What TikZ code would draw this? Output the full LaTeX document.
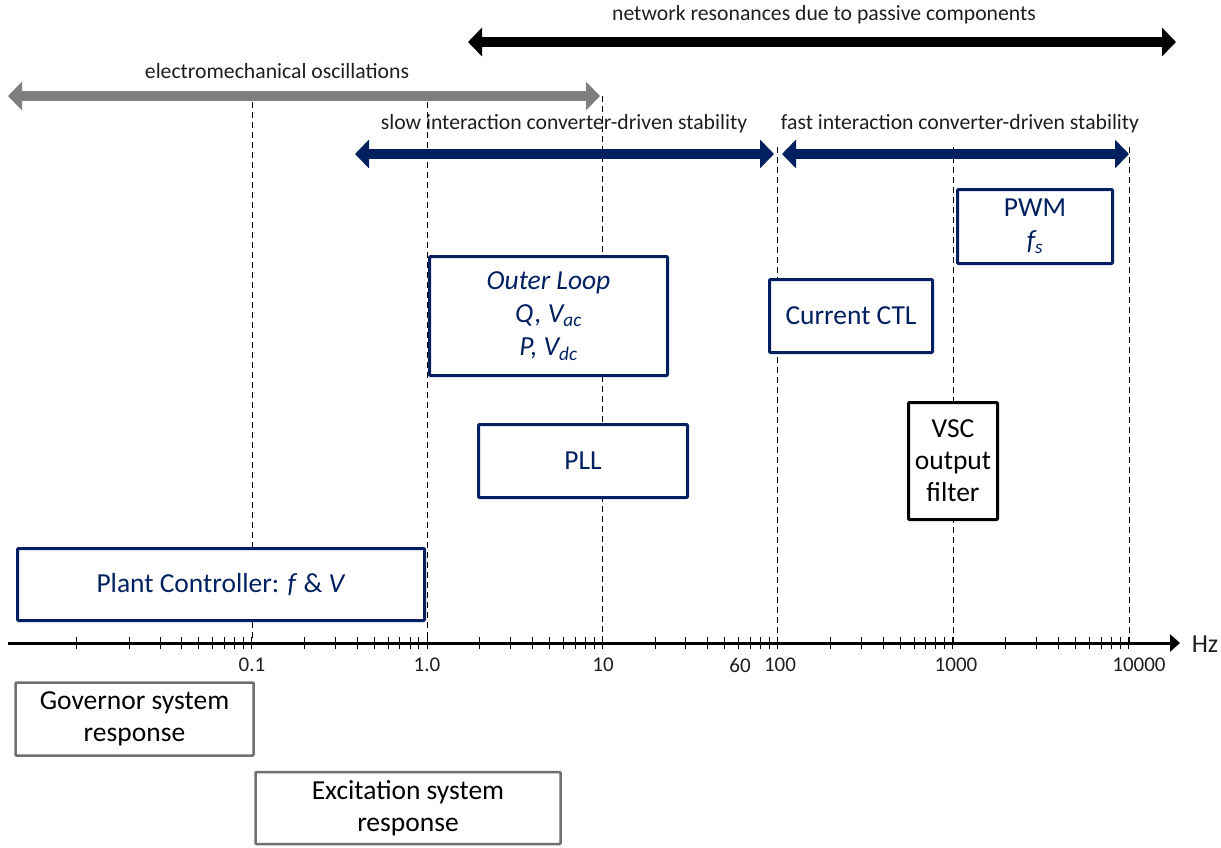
\documentclass[tikz,border=0pt]{standalone}
\usepackage{fontspec}
\setmainfont{Carlito}
\usetikzlibrary{arrows.meta}
\definecolor{navy}{RGB}{0,32,96}
\definecolor{boxgray}{RGB}{112,112,112}
\definecolor{arrgray}{RGB}{127,127,127}
\definecolor{txt}{RGB}{30,30,30}
\begin{document}
\begin{tikzpicture}[x=1pt,y=-1pt,
  bluebox/.style={draw=navy, line width=3pt, fill=white, text=navy, align=center,
    font=\fontsize{27.5}{33}\selectfont, inner sep=0pt, rounded corners=1pt},
  blackbox/.style={draw=black, line width=3pt, fill=white, text=black, align=center,
    font=\fontsize{27.5}{32}\selectfont, inner sep=0pt, rounded corners=1pt},
  graybox/.style={draw=boxgray, line width=2.5pt, fill=white, text=black, align=center,
    font=\fontsize{27.5}{32}\selectfont, inner sep=0pt, rounded corners=1pt},
  lbl/.style={font=\fontsize{21.7}{25}\selectfont, text=txt},
  ticklbl/.style={font=\fontsize{21}{24}\selectfont, text=txt},
  vdash/.style={dash pattern=on 6pt off 4pt, line width=1pt, black},
  rangearrow/.style={line width=10pt, {Triangle[width=28pt,length=14pt]}-{Triangle[width=28pt,length=14pt]}},
]
\useasboundingbox (0,0) rectangle (1221,847);

% dashed decade lines
\foreach \xx/\yy in {252/92, 427/92, 602/96, 777/147, 953/147, 1129/147}{
  \draw[vdash] (\xx,\yy) -- (\xx,643);
}

% axis
\coordinate (ax0) at (8,643);
\coordinate (ax1) at (1180,643);
\draw[line width=3pt, -{Triangle[width=17pt,length=10pt]}] (ax0) -- (ax1);
\foreach \d in {-2,...,3}{
  \foreach \k in {1,...,9}{
    \pgfmathsetmacro{\tx}{427+175.3*(\d+log10(\k))}
    \draw[line width=1pt] (\tx,637) -- (\tx,649);
  }
}
\draw[line width=1pt] (1128.2,637) -- (1128.2,649);
\node[font=\fontsize{26}{30}\selectfont, text=txt] (hz) at (1205,644) {Hz};

\node[ticklbl] (t01) at (252,665) {0.1};
\node[ticklbl] (t1) at (427,665) {1.0};
\node[ticklbl] (t10) at (603,665) {10};
\node[ticklbl] (t60) at (740,665) {60};
\node[ticklbl] (t100) at (780,665) {100};
\node[ticklbl] (t1000) at (956,665) {1000};
\node[ticklbl] (t10000) at (1139,665) {10000};

% range arrows
\coordinate (bl) at (468,42);  \coordinate (br) at (1176,42);
\coordinate (gl) at (8,96);    \coordinate (gr) at (600,96);
\coordinate (sl) at (355,154); \coordinate (sr) at (774,154);
\coordinate (fl) at (782,154); \coordinate (fr) at (1129,154);
\draw[rangearrow, black] (bl) -- (br);
\draw[rangearrow, arrgray] (gl) -- (gr);
\draw[rangearrow, navy] (sl) -- (sr);
\draw[rangearrow, navy] (fl) -- (fr);

\node[lbl] (netlbl) at (824,15) {network resonances due to passive components};
\node[lbl] (emlbl) at (277,71) {electromechanical oscillations};
\node[lbl] (slowlbl) at (564,124) {slow interaction converter-driven stability};
\node[lbl] (fastlbl) at (960,124) {fast interaction converter-driven stability};

% boxes
\node[bluebox, minimum width=407pt, minimum height=72pt] (plant) at (221,584.5)
  {Plant Controller: \textit{f} \& \textit{V}};
\node[bluebox, minimum width=238pt, minimum height=119pt] (outer) at (548.5,316)
  {\textit{Outer Loop}\\ \textit{Q, V\textsubscript{ac}}\\ \textit{P, V\textsubscript{dc}}};
\node[bluebox, minimum width=209pt, minimum height=73pt] (pll) at (583,461) {PLL};
\node[bluebox, minimum width=163pt, minimum height=73pt] (cur) at (851,316) {Current CTL};
\node[bluebox, minimum width=155pt, minimum height=74pt] (pwm) at (1035,226.5)
  {PWM\\ \textit{f\textsubscript{s}}};
\node[blackbox, minimum width=89pt, minimum height=117pt] (vsc) at (953,461)
  {VSC\\ output\\ filter};
\node[graybox, minimum width=238pt, minimum height=73pt] (gov) at (134.5,719)
  {Governor system\\ response};
\node[graybox, minimum width=305pt, minimum height=72pt] (exc) at (408,808)
  {Excitation system\\ response};
\end{tikzpicture}
\end{document}
